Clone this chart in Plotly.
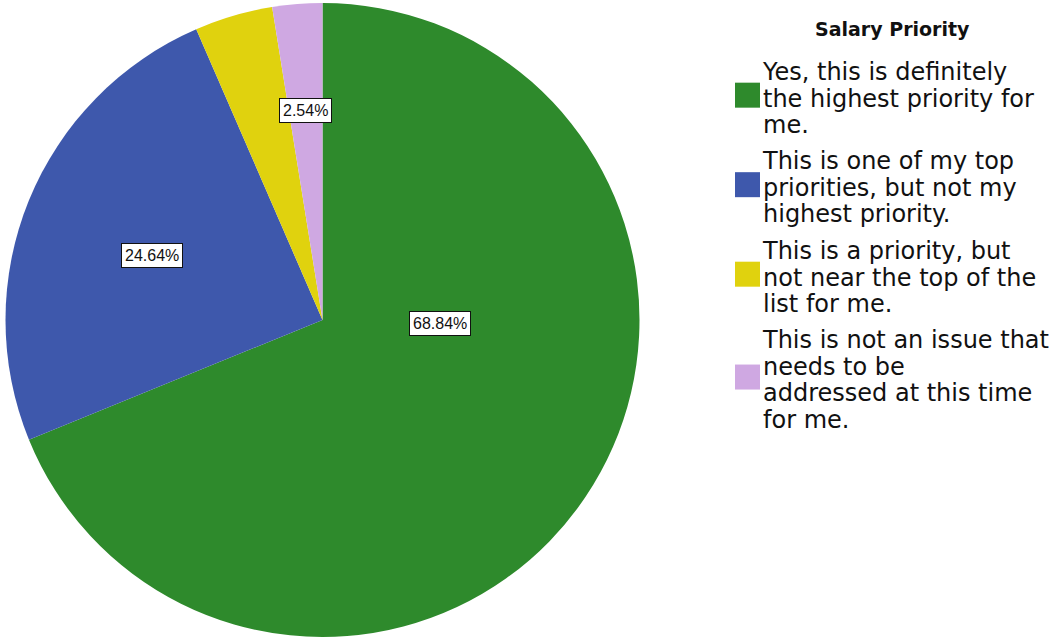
import math
import plotly.graph_objects as go

# Survey responses for "Salary Priority" (percent of respondents)
categories = [
    "Yes, this is definitely\nthe highest priority for\nme.",
    "This is one of my top\npriorities, but not my\nhighest priority.",
    "This is a priority, but\nnot near the top of the\nlist for me.",
    "This is not an issue that\nneeds to be\naddressed at this time\nfor me.",
]
percentages = [68.84, 24.64, 3.98, 2.54]
show_label = [True, True, False, True]
colors = ["#2E8A2C", "#3E58AC", "#E0D20E", "#CFA8E2"]
legend_title = "Salary Priority"

W, H = 1054, 639
FONT = "DejaVu Sans"
LABEL_FONT = "Liberation Sans, Arial"


def px(x):
    return x / W


def py(y):
    return 1 - y / H


# Pie geometry (pixels)
cx, cy, R = 322.5, 320.0, 317.0

fig = go.Figure(
    go.Pie(
        labels=[c.replace("\n", " ") for c in categories],
        values=percentages,
        marker=dict(colors=colors, line=dict(width=0)),
        sort=False,
        direction="clockwise",
        rotation=0,
        textinfo="none",
        showlegend=False,
        domain=dict(x=[px(cx - R), px(cx + R)], y=[py(cy + R), py(cy - R)]),
        hovertemplate="%{label}<br>%{value:.2f}%<extra></extra>",
    )
)

annotations = []

# Boxed percentage labels inside slices
label_radius = [0.371, 0.575, 0.6, 0.663]
label_angle_shift = [-32.4, -1.5, 0.0, 0.0]
total = sum(percentages)
cum = 0.0
for i, v in enumerate(percentages):
    mid = (cum + v / 2) / total * 360.0
    cum += v
    if not show_label[i]:
        continue
    ang = math.radians(mid + label_angle_shift[i])
    r = R * label_radius[i]
    lx = cx + r * math.sin(ang)
    ly = cy - r * math.cos(ang)
    annotations.append(
        dict(
            x=px(lx), y=py(ly), xref="paper", yref="paper",
            text=f"{v:.2f}%", showarrow=False,
            font=dict(family=LABEL_FONT, size=16, color="#111111"),
            bgcolor="white", bordercolor="#111111", borderwidth=1, borderpad=3,
            xanchor="center", yanchor="middle",
        )
    )

# Legend title
annotations.append(
    dict(
        x=px(892), y=py(29), xref="paper", yref="paper",
        text=f"<b>{legend_title}</b>", showarrow=False,
        font=dict(family=FONT, size=19, color="#111111"),
        xanchor="center", yanchor="middle",
    )
)

# Legend entries: swatch + wrapped text block
shapes = []
first_baseline = 80.0
line_pitch = 26.67
group_gap = 9.5
text_size = 24
text_x = 761
sw_x0, sw_size = 735, 25
line_no = 0
for i, cat in enumerate(categories):
    lines = cat.split("\n")
    b0 = first_baseline + line_pitch * line_no + group_gap * i
    bn = b0 + line_pitch * (len(lines) - 1)
    line_no += len(lines)
    block = "<br>".join(
        f"<span style='font-size:{text_size}px'>{ln}</span>" for ln in lines
    )
    annotations.append(
        dict(
            x=px(text_x), y=py((b0 + bn) / 2 - 8.3), xref="paper", yref="paper",
            text=block, showarrow=False, align="left",
            font=dict(family=FONT, size=line_pitch / 1.3, color="#111111"),
            xanchor="left", yanchor="middle", borderpad=0,
        )
    )
    mid_y = (b0 + bn) / 2 - 11.5
    shapes.append(
        dict(
            type="rect", xref="paper", yref="paper",
            x0=px(sw_x0), x1=px(sw_x0 + sw_size),
            y0=py(mid_y + sw_size / 2), y1=py(mid_y - sw_size / 2),
            fillcolor=colors[i], line=dict(width=0),
        )
    )

fig.update_layout(
    width=W, height=H,
    margin=dict(l=0, r=0, t=0, b=0),
    paper_bgcolor="white", plot_bgcolor="white",
    annotations=annotations, shapes=shapes,
    font=dict(family=FONT),
)

fig.write_html("out.html")
